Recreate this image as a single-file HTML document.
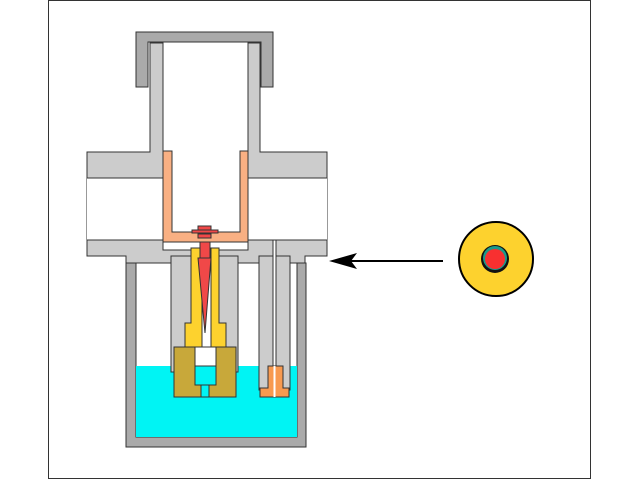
<!DOCTYPE html>
<html><head><style>html,body{margin:0;padding:0;background:#fff}svg{display:block}</style></head><body>
<svg width="640" height="480" viewBox="0 0 640 480" xmlns="http://www.w3.org/2000/svg">
<rect x="48.5" y="0.5" width="542" height="478" fill="#fff" stroke="#333" stroke-width="1"/>
<g stroke="#333" stroke-width="1">
<!-- cap -->
<path d="M136,32 H273 V87 H261 V42 H148 V87 H136 Z" fill="#aaa"/>
<!-- flange body -->
<path d="M150,43 H163 V152 H248 V43 H260 V152 H327 V256 H305 V263 H126 V256 H87 V152 H150 Z" fill="#ccc"/>
<rect x="87" y="178" width="240" height="62" fill="#fff" stroke="none"/>
<line x1="87" y1="178" x2="163" y2="178"/><line x1="87" y1="240" x2="163" y2="240"/>
<line x1="248" y1="178" x2="327" y2="178"/><line x1="248" y1="240" x2="327" y2="240"/>
<rect x="163.5" y="43.5" width="84" height="110" fill="#fff" stroke="none"/>
<rect x="172" y="150" width="68" height="82" fill="#fff" stroke="none"/>
<!-- copper cup -->
<path d="M163,151 H172 V232 H240 V151 H248 V242 H163 Z" fill="#f9b083"/>
<rect x="163" y="242" width="85" height="8" fill="#fff"/>
<!-- vessel -->
<path d="M126,263 H306 V447 H126 Z" fill="#aaa"/>
<rect x="136" y="263" width="161" height="174" fill="#fff"/>
<rect x="136" y="366" width="161" height="71" fill="#00f4f4" stroke="none"/>
<!-- left shaft -->
<rect x="171" y="256" width="67" height="116" fill="#ccc"/>
<!-- yellow -->
<path d="M191,248 H219 V323 H226 V347 H185 V323 H191 Z" fill="#fdd22e"/>
<rect x="202" y="248" width="9" height="99" fill="#fff"/>
<!-- olive -->
<path d="M174,347 H236 V397 H174 Z" fill="#c8a83a"/>
<rect x="195" y="347" width="21" height="19" fill="#fff"/>
<rect x="195" y="366" width="21" height="19" fill="#00f4f4"/>
<rect x="201" y="385" width="8" height="12" fill="#00f4f4"/>
<!-- needle -->
<path d="M198,258 H211 L205,333 Z" fill="#f04848"/>
<rect x="200" y="242" width="10" height="16" fill="#f04848"/>
<rect x="192" y="230" width="26" height="3" fill="#f04848"/>
<rect x="198" y="226" width="13" height="4" fill="#f04848"/>
<rect x="198" y="234" width="13" height="4" fill="#f04848"/>
<!-- right probe -->
<rect x="259" y="256" width="31" height="134" fill="#ccc"/>
<rect x="273" y="240" width="3" height="150" fill="#fff"/>
<path d="M268,366 H283 V388 H289 V397 H260 V388 H268 Z" fill="#f89a50"/>
<line x1="274.5" y1="366" x2="274.5" y2="397" stroke="#fff" stroke-width="2"/>
</g>
<!-- arrow -->
<line x1="443" y1="261" x2="345" y2="261" stroke="#000" stroke-width="2"/>
<path d="M329,261 L357,253 L351,261 L357,269 Z" fill="#000"/>
<!-- indicator -->
<circle cx="496" cy="259" r="37" fill="#fdd22e" stroke="#000" stroke-width="2"/>
<circle cx="495" cy="259" r="14" fill="#111"/>
<circle cx="495" cy="258" r="12" fill="#1a9a8a"/>
<circle cx="495" cy="259" r="10" fill="#f83030"/>
</svg>
</body></html>
